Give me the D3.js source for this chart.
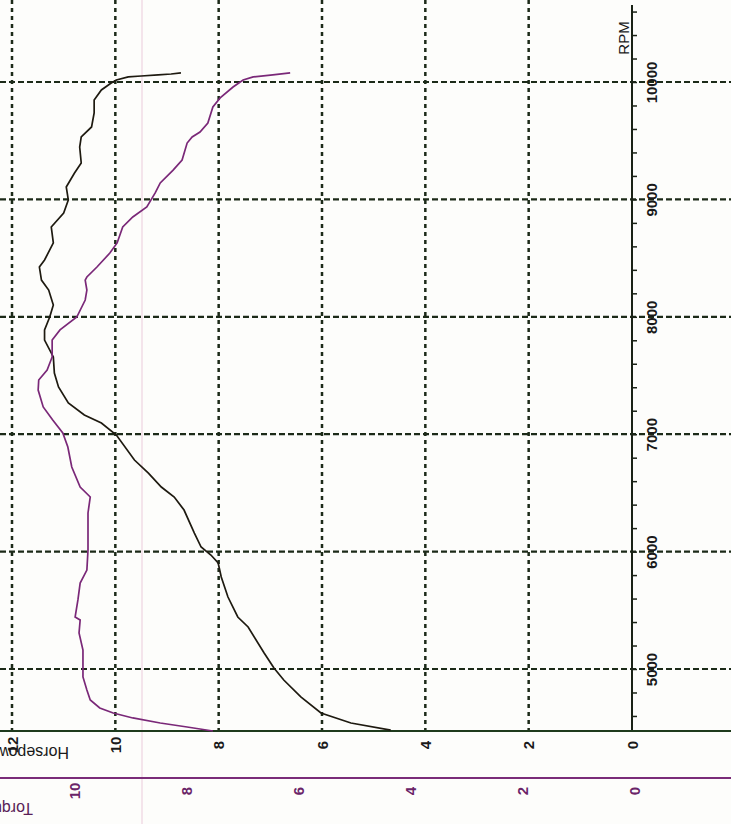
<!DOCTYPE html>
<html>
<head>
<meta charset="utf-8">
<script src="https://cdn.jsdelivr.net/npm/d3@7"></script>
<style>
  body { margin: 0; background: #fdfdfb; }
  svg { display: block; }
  text { font-family: "Liberation Sans", Arial, sans-serif; }
</style>
</head>
<body>
<div id="chart"></div>
<script>
'use strict';

// Horsepower curve (black): rpm / hp
const hpRpm = [4480, 4540, 4625, 4762, 4906, 5008, 5136, 5358, 5443, 5613, 5784, 5903, 5971, 6039,
    6158, 6354, 6465, 6550, 6669, 6780, 6993, 7095, 7164, 7266, 7402, 7521, 7658, 7802, 7888, 7998,
    8100, 8228, 8313, 8424, 8484, 8629, 8765, 8884, 8995, 9106, 9225, 9310, 9446, 9532, 9617, 9736,
    9847, 9932, 9991, 10017, 10043, 10051, 10060, 10068, 10077];
const hpValues = [4.67, 5.44, 6.02, 6.41, 6.74, 6.93, 7.12, 7.43, 7.63, 7.82, 7.95, 8.01, 8.15, 8.34,
    8.47, 8.67, 8.86, 9.11, 9.36, 9.63, 9.98, 10.27, 10.60, 10.91, 11.10, 11.18, 11.20, 11.37, 11.37, 11.27,
    11.20, 11.29, 11.43, 11.47, 11.37, 11.20, 11.24, 11.00, 10.91, 10.95, 10.79, 10.66, 10.69, 10.66, 10.46, 10.41,
    10.41, 10.27, 10.08, 9.98, 9.75, 9.50, 9.17, 8.92, 8.73];

// Torque curve (purple): rpm / torque
const tqRpm = [4472, 4506, 4540, 4583, 4625, 4668, 4736, 4821, 4932, 5162, 5307, 5417, 5443, 5588,
    5732, 5843, 6014, 6329, 6465, 6550, 6721, 6891, 7010, 7121, 7232, 7376, 7462, 7547, 7658, 7802,
    7888, 7998, 8143, 8228, 8313, 8339, 8424, 8543, 8629, 8765, 8850, 8935, 9055, 9140, 9250, 9336,
    9480, 9532, 9574, 9651, 9787, 9864, 9957, 10017, 10043, 10060, 10077];
const tqValues = [7.52, 7.98, 8.46, 8.95, 9.30, 9.54, 9.71, 9.77, 9.84, 9.84, 9.91, 9.89, 9.98, 9.93,
    9.89, 9.77, 9.75, 9.75, 9.71, 9.89, 10.04, 10.11, 10.20, 10.38, 10.55, 10.64, 10.63, 10.48, 10.39, 10.39,
    10.25, 9.95, 9.80, 9.77, 9.80, 9.77, 9.59, 9.36, 9.23, 9.13, 8.95, 8.70, 8.55, 8.46, 8.23, 8.07,
    7.98, 7.89, 7.75, 7.61, 7.52, 7.39, 7.16, 6.98, 6.80, 6.45, 6.14];

const rpmTicks = [5000, 6000, 7000, 8000, 9000, 10000];
const hpTicks = [0, 2, 4, 6, 8, 10, 12];
const tqTicks = [0, 2, 4, 6, 8, 10];

const width = 731, height = 824;

const svg = d3.select("#chart").append("svg")
    .attr("width", width)
    .attr("height", height);

// rpm runs up the page, hp and torque run to the left (scan is turned on its side)
const y = d3.scaleLinear().domain([5000, 10000]).range([669, 82]);
const xHp = d3.scaleLinear().domain([0, 12]).range([632, 12]);
const xTq = d3.scaleLinear().domain([0, 10]).range([634, 74]);

const axisY = 731, tqAxisY = 778, rpmAxisX = 632;

// faint pink line from the scan
svg.append("line")
    .attr("x1", 142).attr("x2", 142).attr("y1", 0).attr("y2", height)
    .attr("stroke", "#f1dbe6").attr("stroke-width", 1.5);

// dashed grid
svg.append("g").selectAll("line")
    .data(hpTicks.filter(d => d > 0))
    .join("line")
    .attr("x1", d => xHp(d)).attr("x2", d => xHp(d))
    .attr("y1", 0).attr("y2", axisY)
    .attr("stroke", "#1c2a18").attr("stroke-width", 2.5)
    .attr("stroke-dasharray", "4,4");

svg.append("g").selectAll("line")
    .data(rpmTicks)
    .join("line")
    .attr("x1", 0).attr("x2", width)
    .attr("y1", d => y(d)).attr("y2", d => y(d))
    .attr("stroke", "#1c2a18").attr("stroke-width", 2.2)
    .attr("stroke-dasharray", "6,3");

// rpm axis with minor ticks every 200
const minorTicks = d3.range(4600, 10700, 200);
const rpmAxis = svg.append("g")
    .attr("transform", "translate(" + rpmAxisX + ",0)")
    .call(d3.axisRight(y).tickValues(minorTicks).tickSize(5).tickFormat(""));
rpmAxis.select(".domain").remove();
rpmAxis.selectAll("line").attr("stroke", "#1a2216").attr("stroke-width", 1.5);

svg.append("line")
    .attr("x1", rpmAxisX).attr("x2", rpmAxisX).attr("y1", 5).attr("y2", axisY)
    .attr("stroke", "#1a2216").attr("stroke-width", 2);

const rpmLabels = svg.append("g")
    .attr("transform", "translate(" + rpmAxisX + ",0)")
    .call(d3.axisRight(y).tickValues(rpmTicks).tickSize(0).tickFormat(d3.format("d")));
rpmLabels.select(".domain").remove();
rpmLabels.selectAll("text")
    .attr("x", 0).attr("dy", "0.35em")
    .attr("transform", "translate(20,0) rotate(-90)")
    .attr("text-anchor", "middle")
    .attr("fill", "#1a1a1a")
    .style("font-size", "15px").style("font-weight", "bold");

svg.append("text")
    .attr("transform", "translate(" + (rpmAxisX - 8) + ",38) rotate(-90)")
    .attr("text-anchor", "middle")
    .attr("dy", "0.35em")
    .attr("fill", "#1a1a1a")
    .style("font-size", "15px")
    .text("RPM");

// horsepower axis
svg.append("line")
    .attr("x1", 0).attr("x2", width).attr("y1", axisY).attr("y2", axisY)
    .attr("stroke", "#1e3a1c").attr("stroke-width", 2);

const hpAxis = svg.append("g")
    .attr("transform", "translate(0," + axisY + ")")
    .call(d3.axisBottom(xHp).tickValues(hpTicks).tickSize(0).tickFormat(d3.format("d")));
hpAxis.select(".domain").remove();
hpAxis.selectAll("text")
    .attr("y", 0).attr("dy", "0.35em")
    .attr("transform", "translate(0,14) rotate(-90)")
    .attr("text-anchor", "middle")
    .attr("fill", "#1a1a1a")
    .style("font-size", "15px").style("font-weight", "bold");

svg.append("text")
    .attr("transform", "translate(69,753) rotate(180)")
    .attr("dy", "0.35em")
    .attr("fill", "#1a1a1a")
    .style("font-size", "16px")
    .text("Horsepower");

// torque axis
svg.append("line")
    .attr("x1", 0).attr("x2", width).attr("y1", tqAxisY).attr("y2", tqAxisY)
    .attr("stroke", "#7a2c78").attr("stroke-width", 2);

const tqAxis = svg.append("g")
    .attr("transform", "translate(0," + tqAxisY + ")")
    .call(d3.axisBottom(xTq).tickValues(tqTicks).tickSize(0).tickFormat(d3.format("d")));
tqAxis.select(".domain").remove();
tqAxis.selectAll("text")
    .attr("y", 0).attr("dy", "0.35em")
    .attr("transform", "translate(0,13) rotate(-90)")
    .attr("text-anchor", "middle")
    .attr("fill", "#6a2468")
    .style("font-size", "15px").style("font-weight", "bold");

svg.append("text")
    .attr("transform", "translate(33,809) rotate(180)")
    .attr("dy", "0.35em")
    .attr("fill", "#5a1f58")
    .style("font-size", "16px")
    .text("Torque");

// curves
const hpLine = d3.line()
    .x(i => xHp(hpValues[i]))
    .y(i => y(hpRpm[i]));
svg.append("path")
    .attr("d", hpLine(d3.range(hpRpm.length)))
    .attr("fill", "none")
    .attr("stroke", "#1e1a10")
    .attr("stroke-width", 1.7);

const tqLine = d3.line()
    .x(i => xTq(tqValues[i]))
    .y(i => y(tqRpm[i]));
svg.append("path")
    .attr("d", tqLine(d3.range(tqRpm.length)))
    .attr("fill", "none")
    .attr("stroke", "#7a2878")
    .attr("stroke-width", 1.7);
</script>
</body>
</html>
